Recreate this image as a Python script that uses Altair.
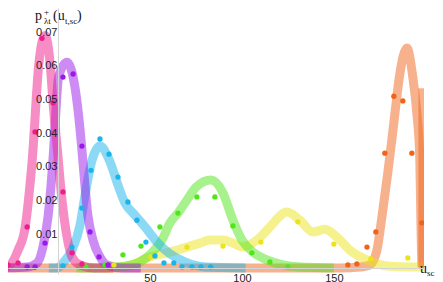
import altair as alt
import pandas as pd

# ---------------- data ----------------
colors = {
    "pink": "#EE1C8C",
    "purple": "#9A1AEA",
    "cyan": "#1AB4EC",
    "green": "#50E61A",
    "yellow": "#EBE41A",
    "orange": "#F0641A",
}

# fitted curves
pink_line_x = [-31.5, -27.7, -21.7, -17.9, -15.2, -13.6, -12.0, -10.4, -7.1, -4.3, -2.7, -0.5, 2.2, 4.9, 7.6, 12.0, 20.0, 30.0]
pink_line_y = [0.0, 0.0003, 0.0053, 0.012, 0.025, 0.035, 0.049, 0.0608, 0.069, 0.0608, 0.049, 0.036, 0.020, 0.0092, 0.0033, 0.0009, 0.0, 0.0]

purple_line_x = [-31.5, -16.8, -11.4, -8.2, -5.4, -2.4, -1.2, 0.3, 4.8, 9.2, 12.0, 13.0, 16.3, 19.0, 22.8, 26.6, 35.0, 45.0]
purple_line_y = [0.0, 0.0003, 0.0015, 0.0062, 0.0154, 0.035, 0.046, 0.0567, 0.0611, 0.0537, 0.041, 0.035, 0.0154, 0.0083, 0.0033, 0.0009, 0.0, 0.0]

cyan_line_x = [-5.0, -0.5, 2.7, 7.6, 12.0, 14.7, 18.5, 22.8, 28.3, 32.6, 36.4, 41.8, 47.3, 53.8, 60.9, 69.0, 80.0, 102.0]
cyan_line_y = [0.0, 0.0, 0.0015, 0.0053, 0.0128, 0.0217, 0.032, 0.0362, 0.0315, 0.0246, 0.0193, 0.0157, 0.0122, 0.0077, 0.0042, 0.0018, 0.0003, 0.0]

green_line_x = [10.0, 22.8, 29.9, 37.5, 44.6, 51.0, 56.5, 60.9, 65.2, 70.1, 75.0, 83.2, 89.7, 95.1, 100.0, 106.0, 113.6, 122.3, 131.5, 150.0]
green_line_y = [0.0, 0.0, 0.0003, 0.0006, 0.0018, 0.0045, 0.0083, 0.0134, 0.0163, 0.0202, 0.024, 0.0261, 0.0223, 0.0142, 0.0083, 0.0047, 0.0024, 0.0009, 0.0003, 0.0]

yellow_line_x = [25.0, 28.3, 39.1, 50.0, 60.9, 70.1, 77.2, 82.6, 89.7, 95.1, 100.5, 108.2, 115.2, 124.5, 131.5, 138.6, 145.1, 151.6, 158.7, 168.0, 178.8, 191.3, 199.0]
yellow_line_y = [0.0, 0.0, 0.0009, 0.0033, 0.0047, 0.0062, 0.0074, 0.0083, 0.0083, 0.0074, 0.0062, 0.0083, 0.0122, 0.0166, 0.0142, 0.0107, 0.0115, 0.0092, 0.0053, 0.0024, 0.0006, 0.0003, 0.0003]

orange_line_x = [-31.5, 153.3, 164.1, 169.6, 173.4, 176.1, 179.3, 181.5, 183.2, 185.6, 189.7, 192.9, 195.1, 196.7, 197.3, 197.8]
orange_line_y = [0.0, 0.0, 0.0003, 0.0009, 0.0053, 0.0151, 0.0282, 0.038, 0.046, 0.0567, 0.0653, 0.0567, 0.046, 0.033, 0.0142, 0.0003]

# truncated edge of the orange curve
orange_edge_x = [198.4]
orange_edge_top = [0.0534]

# sample points
pink_pts_x = [-27.2, -21.7, -16.8, -12.5, -8.7, -2.7, 2.7, 7.6, 13.0]
pink_pts_y = [0.0009, 0.0015, 0.0122, 0.0404, 0.0682, 0.049, 0.0226, 0.0045, 0.0012]

purple_pts_x = [-16.8, -12.5, -7.1, 2.7, 8.2, 13.0, 17.4, 22.3, 27.2]
purple_pts_y = [0.0003, 0.0003, 0.0074, 0.0567, 0.0576, 0.0362, 0.0107, 0.0033, 0.0009]

cyan_pts_x = [2.7, 7.6, 13.0, 17.9, 22.8, 27.7, 32.6, 38.0, 42.9, 47.8, 52.7, 57.6, 63.0, 67.4, 72.8, 77.7, 83.0]
cyan_pts_y = [0.0006, 0.0062, 0.0178, 0.029, 0.0383, 0.0338, 0.027, 0.0196, 0.0142, 0.0077, 0.0036, 0.0015, 0.0015, 0.0003, 0.0003, 0.0003, 0.0003]

green_pts_x = [15.2, 25.5, 35.3, 45.1, 55.4, 65.2, 75.5, 85.3, 95.1, 105.4, 115.2, 125.0]
green_pts_y = [0.0003, 0.0009, 0.0039, 0.0065, 0.0122, 0.0163, 0.0211, 0.0211, 0.0125, 0.0045, 0.0018, 0.0003]

yellow_pts_x = [30.4, 50.5, 70.1, 89.7, 110.3, 130.4, 150.0, 170.1, 190.2]
yellow_pts_y = [0.0009, 0.0033, 0.0062, 0.0065, 0.0077, 0.0137, 0.0071, 0.0027, 0.003]

orange_pts_x = [157.6, 162.5, 168.0, 172.8, 177.7, 182.6, 187.5, 192.4, 197.8]
orange_pts_y = [0.0009, 0.0012, 0.0062, 0.0107, 0.0341, 0.051, 0.0496, 0.0341, 0.0134]

x_ticks = [50, 100, 150]
y_ticks = [0.01, 0.02, 0.03, 0.04, 0.05, 0.06, 0.07]
x_domain = [-27.2, 199.0]
y_domain = [-0.00178, 0.0772]

lines = {
    "orange": (orange_line_x, orange_line_y),
    "yellow": (yellow_line_x, yellow_line_y),
    "green": (green_line_x, green_line_y),
    "cyan": (cyan_line_x, cyan_line_y),
    "purple": (purple_line_x, purple_line_y),
    "pink": (pink_line_x, pink_line_y),
}
points = {
    "orange": (orange_pts_x, orange_pts_y),
    "yellow": (yellow_pts_x, yellow_pts_y),
    "green": (green_pts_x, green_pts_y),
    "cyan": (cyan_pts_x, cyan_pts_y),
    "purple": (purple_pts_x, purple_pts_y),
    "pink": (pink_pts_x, pink_pts_y),
}

# ---------------- chart ----------------
xscale = alt.Scale(domain=x_domain, nice=False, zero=False)
yscale = alt.Scale(domain=y_domain, nice=False, zero=False)

xaxis = alt.Axis(values=x_ticks, offset=-6, title=None, grid=False, tickSize=0,
                 labelPadding=4, domainColor="#d4d4d4", labelColor="#222222",
                 labelFontSize=11, labelFont="Liberation Sans", zindex=1)
yaxis = alt.Axis(values=y_ticks, format=".2f", offset=-50, title=None, grid=False,
                 tickSize=0, labelPadding=1, domainColor="#d4d4d4", labelColor="#222222",
                 labelFontSize=11, labelFont="Liberation Sans", zindex=1)

X = alt.X("x:Q", scale=xscale, axis=xaxis)
Y = alt.Y("y:Q", scale=yscale, axis=yaxis)

layers = []
for name, (xs, ys) in lines.items():
    df = pd.DataFrame({"x": xs, "y": ys})
    layers.append(
        alt.Chart(df).mark_line(interpolate="monotone", strokeWidth=9, opacity=0.5,
                                color=colors[name], clip=True, strokeCap="butt")
        .encode(x=X, y=Y)
    )

edge_df = pd.DataFrame({"x": orange_edge_x, "y": [0.0], "y2": orange_edge_top})
layers.append(
    alt.Chart(edge_df).mark_rule(strokeWidth=9, opacity=0.5, color=colors["orange"], clip=True)
    .encode(x=X, y=Y, y2="y2:Q")
)

for name, (xs, ys) in points.items():
    df = pd.DataFrame({"x": xs, "y": ys})
    layers.append(
        alt.Chart(df).mark_circle(size=28, opacity=1, color=colors[name], clip=True)
        .encode(x=X, y=Y)
    )

dummy = pd.DataFrame({"d": [0]})


def label(txt, px, py, size):
    return alt.Chart(dummy).mark_text(text=txt, font="Liberation Serif", fontSize=size,
                                      align="left", baseline="alphabetic", color="#111111"
                                      ).encode(x=alt.value(px), y=alt.value(py))


y_title = [("p", 27, 12, 14), ("+", 36, 7, 9), ("λt", 36, 16, 9),
           ("(u", 45, 12, 14), ("t,sc", 57, 16, 9), (")", 69, 12, 14)]
x_title = [("u", 412, 265, 14), ("sc", 419, 268, 9)]
for t in y_title + x_title:
    layers.append(label(*t))

chart = alt.layer(*layers).properties(
    width=416, height=266,
    autosize=alt.AutoSizeParams(type="none"),
    padding={"left": 0, "top": 0, "right": 11, "bottom": 8},
).configure_view(stroke=None)

chart.save("out.html", embed_options={"renderer": "svg", "actions": False})
